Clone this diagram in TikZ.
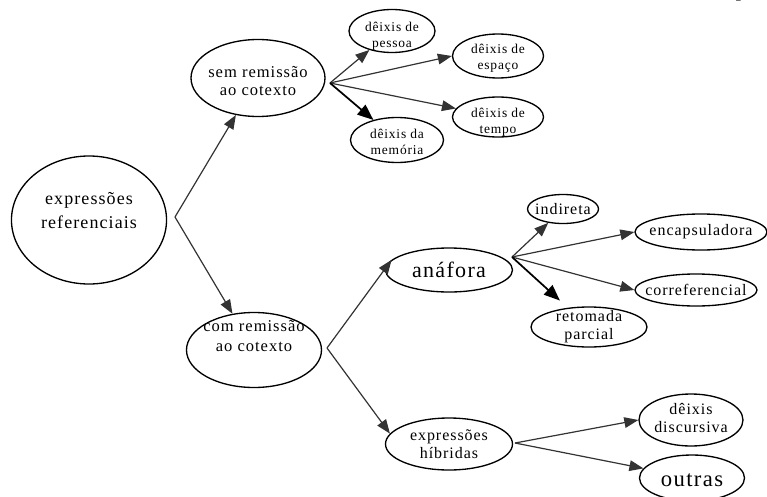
\documentclass[tikz,border=0pt]{standalone}
\usepackage{fontspec}
\setmainfont{Liberation Serif}[LetterSpace=6]
\usetikzlibrary{shapes.geometric,arrows.meta}

\begin{document}
\begin{tikzpicture}[x=0.75pt,y=-0.75pt,
  oval/.style={ellipse,draw,line width=1pt,inner sep=0pt},
  every label/.style={align=center,inner sep=0pt,font=\fontsize{12}{13.5}\selectfont},
  small/.style={font=\fontsize{10.1}{12}\selectfont},
  link/.style={draw=black!80,line width=0.9pt,-{Triangle[length=10.5pt,width=8pt]}},
  boldlink/.style={draw=black,line width=1.3pt,-{Triangle[length=12pt,width=9.5pt]}}]
\useasboundingbox (0,0) rectangle (767,496);
% page mark
\node[anchor=base west,inner sep=0pt,font=\fontsize{16}{18}\selectfont\itshape] (mark) at (737,-3) {p};
% root
\node[oval,minimum width=116.3pt,minimum height=96pt,
  label={[yshift=6.75pt,font=\fontsize{13.5}{18}\selectfont]center:expressões\\referenciais}] (expr) at (89,220) {};
\coordinate (expr-out) at (175,217);
% sem remissao
\node[oval,minimum width=100.5pt,minimum height=57.75pt,
  label={[yshift=-2pt,font=\fontsize{12.4}{13.5}\selectfont]center:sem remissão\\ao cotexto}] (sem) at (258,78) {};
\coordinate (sem-out) at (330,83);
\node[oval,minimum width=64.5pt,minimum height=32.25pt,
  label={[yshift=-3.75pt,small]center:dêixis de\\pessoa}] (pessoa) at (392,31) {};
\node[oval,minimum width=68.25pt,minimum height=33pt,
  label={[yshift=-1.5pt,small]center:dêixis de\\espaço}] (espaco) at (498,56) {};
\node[oval,minimum width=68.25pt,minimum height=30pt,
  label={[yshift=-3.75pt,small]center:dêixis de\\tempo}] (tempo) at (498,117) {};
\node[oval,minimum width=69.75pt,minimum height=33.75pt,
  label={[yshift=-1.5pt,small]center:dêixis da\\memória}] (memoria) at (397,140) {};
% com remissao
\node[oval,minimum width=101.25pt,minimum height=56.25pt,
  label={[yshift=10.5pt,font=\fontsize{12.4}{15}\selectfont]center:com remissão\\ao cotexto}] (com) at (254,350) {};
\coordinate (com-out) at (327,348);
\node[oval,minimum width=95.25pt,minimum height=33pt,
  label={[font=\fontsize{16.5}{18}\selectfont]center:anáfora}] (anafora) at (449,270) {};
\coordinate (anafora-out) at (512,257);
\node[oval,minimum width=53.25pt,minimum height=21.75pt,
  label={center:indireta}] (indireta) at (563,209) {};
\node[oval,minimum width=99pt,minimum height=27pt,
  label={center:encapsuladora}] (encaps) at (701,232) {};
\node[oval,minimum width=91.5pt,minimum height=24pt,
  label={center:correferencial}] (corref) at (696,290) {};
\node[oval,minimum width=87pt,minimum height=30pt,
  label={center:retomada\\parcial}] (retomada) at (589,327) {};
\node[oval,minimum width=95.25pt,minimum height=39pt,
  label={center:expressões\\híbridas}] (hibridas) at (449,444) {};
\coordinate (hibridas-out) at (515,443);
\node[oval,minimum width=78pt,minimum height=39pt,
  label={[yshift=1.5pt]center:dêixis\\discursiva}] (discursiva) at (691,420) {};
\node[oval,minimum width=78.75pt,minimum height=34.5pt,
  label={[yshift=-1.5pt,font=\fontsize{17}{18}\selectfont]center:outras}] (outras) at (692,478) {};
% connectors
\draw[link] (expr-out) -- (sem);
\draw[link] (expr-out) -- (com);
\draw[link] (sem-out) -- (pessoa);
\draw[link] (sem-out) -- (espaco.west);
\draw[link] (sem-out) -- (tempo);
\draw[boldlink] (sem-out) -- (memoria);
\draw[link] (com-out) -- (anafora.170);
\draw[link] (com-out) -- (hibridas.170);
\draw[link] (anafora-out) -- (indireta);
\draw[link] (anafora-out) -- (encaps.west);
\draw[link] (anafora-out) -- (corref.west);
\draw[boldlink,shorten >=8pt] (anafora-out) -- (retomada);
\draw[link] (hibridas-out) -- (discursiva.west);
\draw[link] (hibridas-out) -- (outras);
\end{tikzpicture}
\end{document}
